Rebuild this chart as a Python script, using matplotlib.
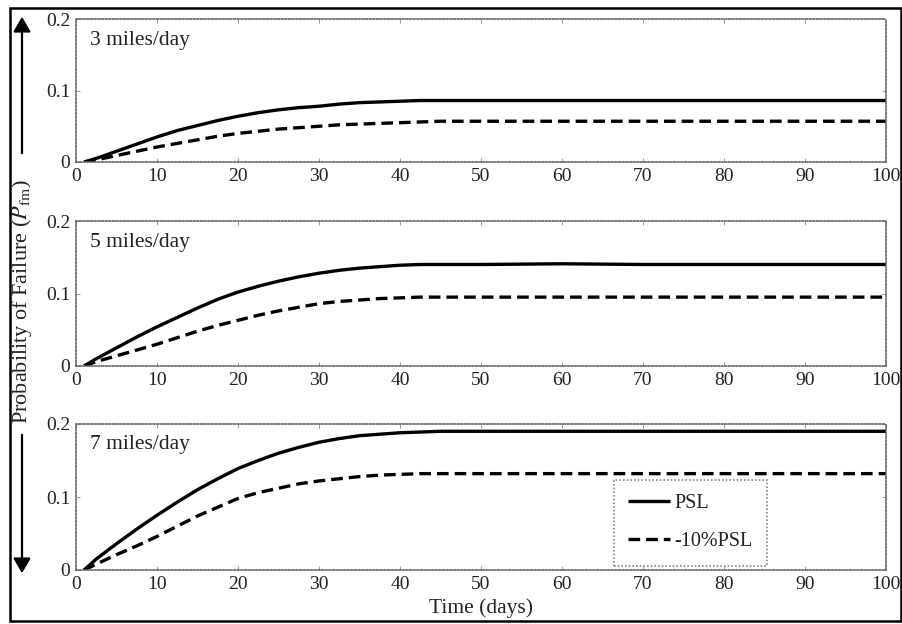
import matplotlib
matplotlib.use("Agg")
import matplotlib.pyplot as plt
from matplotlib.patches import Rectangle, FancyArrowPatch

plt.rcParams['font.family'] = ['Liberation Serif', 'DejaVu Serif']
plt.rcParams['mathtext.fontset'] = 'stix'

days = [1, 2.5, 5, 7.5, 10, 12.5, 15, 17.5, 20, 22.5, 25, 27.5, 30, 32.5, 35, 37.5, 40, 42.5, 45,
        50, 60, 70, 80, 90, 100]
psl_3 = [0.0, 0.005, 0.015, 0.025, 0.035, 0.044, 0.051, 0.058, 0.064, 0.069, 0.073, 0.076, 0.078,
         0.081, 0.083, 0.084, 0.085, 0.086, 0.086, 0.086, 0.086, 0.086, 0.086, 0.086, 0.086]
neg_3 = [0.0, 0.003, 0.009, 0.015, 0.021, 0.026, 0.031, 0.036, 0.040, 0.043, 0.046, 0.048, 0.050,
         0.052, 0.053, 0.054, 0.055, 0.056, 0.057, 0.057, 0.057, 0.057, 0.057, 0.057, 0.057]
psl_5 = [0.0, 0.010, 0.025, 0.040, 0.054, 0.067, 0.080, 0.092, 0.102, 0.110, 0.117, 0.123, 0.128,
         0.132, 0.135, 0.137, 0.139, 0.140, 0.140, 0.140, 0.141, 0.140, 0.140, 0.140, 0.140]
neg_5 = [0.0, 0.006, 0.014, 0.022, 0.030, 0.039, 0.048, 0.056, 0.063, 0.070, 0.076, 0.081, 0.086,
         0.089, 0.091, 0.093, 0.094, 0.095, 0.095, 0.095, 0.095, 0.095, 0.095, 0.095, 0.095]
psl_7 = [0.0, 0.015, 0.036, 0.056, 0.075, 0.093, 0.110, 0.125, 0.139, 0.150, 0.160, 0.168, 0.175,
         0.180, 0.184, 0.186, 0.188, 0.189, 0.190, 0.190, 0.190, 0.190, 0.190, 0.190, 0.190]
neg_7 = [0.0, 0.008, 0.021, 0.033, 0.046, 0.060, 0.074, 0.086, 0.098, 0.106, 0.112, 0.118, 0.122,
         0.125, 0.128, 0.130, 0.131, 0.132, 0.132, 0.132, 0.132, 0.132, 0.132, 0.132, 0.132]

panel_titles = ['3 miles/day', '5 miles/day', '7 miles/day']
series_labels = ['PSL', '-10%PSL']
xticks = [0, 10, 20, 30, 40, 50, 60, 70, 80, 90, 100]
yticks = [0, 0.1, 0.2]
ytick_labels = ['0', '0.1', '0.2']

W, H = 903, 624
fig = plt.figure(figsize=(W / 100, H / 100), dpi=100)

panels = [(19, 162), (221, 366), (424, 570)]
title_y = [40, 242, 445]
data = [(psl_3, neg_3), (psl_5, neg_5), (psl_7, neg_7)]
left, right = 76, 886
txtc = '#222222'

for i, ((top, bot), (p, n)) in enumerate(zip(panels, data)):
    ax = fig.add_axes([left / W, 1 - bot / H, (right - left) / W, (bot - top) / H])
    ax.plot(days, p, color='black', lw=2.4, solid_capstyle='butt', label=series_labels[0])
    ax.plot(days, n, color='black', lw=2.4, linestyle=(0, (3.5, 1.8)), dash_capstyle='butt',
            label=series_labels[1])
    ax.set_xlim(0, 100)
    ax.set_ylim(0, 0.2)
    ax.set_xticks(xticks)
    ax.set_yticks(yticks)
    ax.set_yticklabels(ytick_labels)
    ax.tick_params(direction='in', length=3, width=0.6, color='#888888', labelsize=14,
                   labelcolor=txtc, top=True, right=True, pad=4)
    for s in ax.spines.values():
        s.set_linestyle((0, (1, 1.2)))
        s.set_color('#666666')
        s.set_linewidth(1.2)
    ax.text((90 - left) / (right - left), (bot - title_y[i]) / (bot - top), panel_titles[i],
            transform=ax.transAxes, fontsize=15.5, color=txtc, va='center', ha='left')
    if i == 2:
        leg = ax.legend(loc='upper left',
                        bbox_to_anchor=((614 - left) / (right - left), 1 - (480 - top) / (bot - top)),
                        fontsize=14.5, frameon=True, fancybox=False, handlelength=2.1,
                        handletextpad=0.2, borderpad=0.7, labelspacing=0.95, borderaxespad=0)
        fr = leg.get_frame()
        fr.set_linestyle((0, (1, 1.2)))
        fr.set_edgecolor('#666666')
        fr.set_linewidth(1.2)
        for t in leg.get_texts():
            t.set_color(txtc)

fig.text((left + right) / 2 / W, 1 - 608 / H, 'Time (days)', ha='center', va='center',
         fontsize=15.5, color=txtc)

# y-axis label with arrows
fig.text(22 / W, 1 - 302 / H, 'Probability of Failure ($P_{\\mathrm{fm}}$)', rotation=90,
         ha='center', va='center', fontsize=16, color=txtc)
fig.add_artist(FancyArrowPatch((22 / W, 1 - 156 / H), (22 / W, 1 - 14 / H),
                               transform=fig.transFigure,
                               arrowstyle='-|>,head_length=6,head_width=3.5',
                               color='black', lw=1.6, mutation_scale=1.5))
fig.add_artist(FancyArrowPatch((22 / W, 1 - 432 / H), (22 / W, 1 - 576 / H),
                               transform=fig.transFigure,
                               arrowstyle='-|>,head_length=6,head_width=3.5',
                               color='black', lw=1.6, mutation_scale=1.5))

# outer border
fig.add_artist(Rectangle((10 / W, 1 - 621 / H), 891 / W, 613 / H, transform=fig.transFigure,
                         fill=False, edgecolor='black', lw=1.8))

fig.savefig('out.png', dpi=100)
